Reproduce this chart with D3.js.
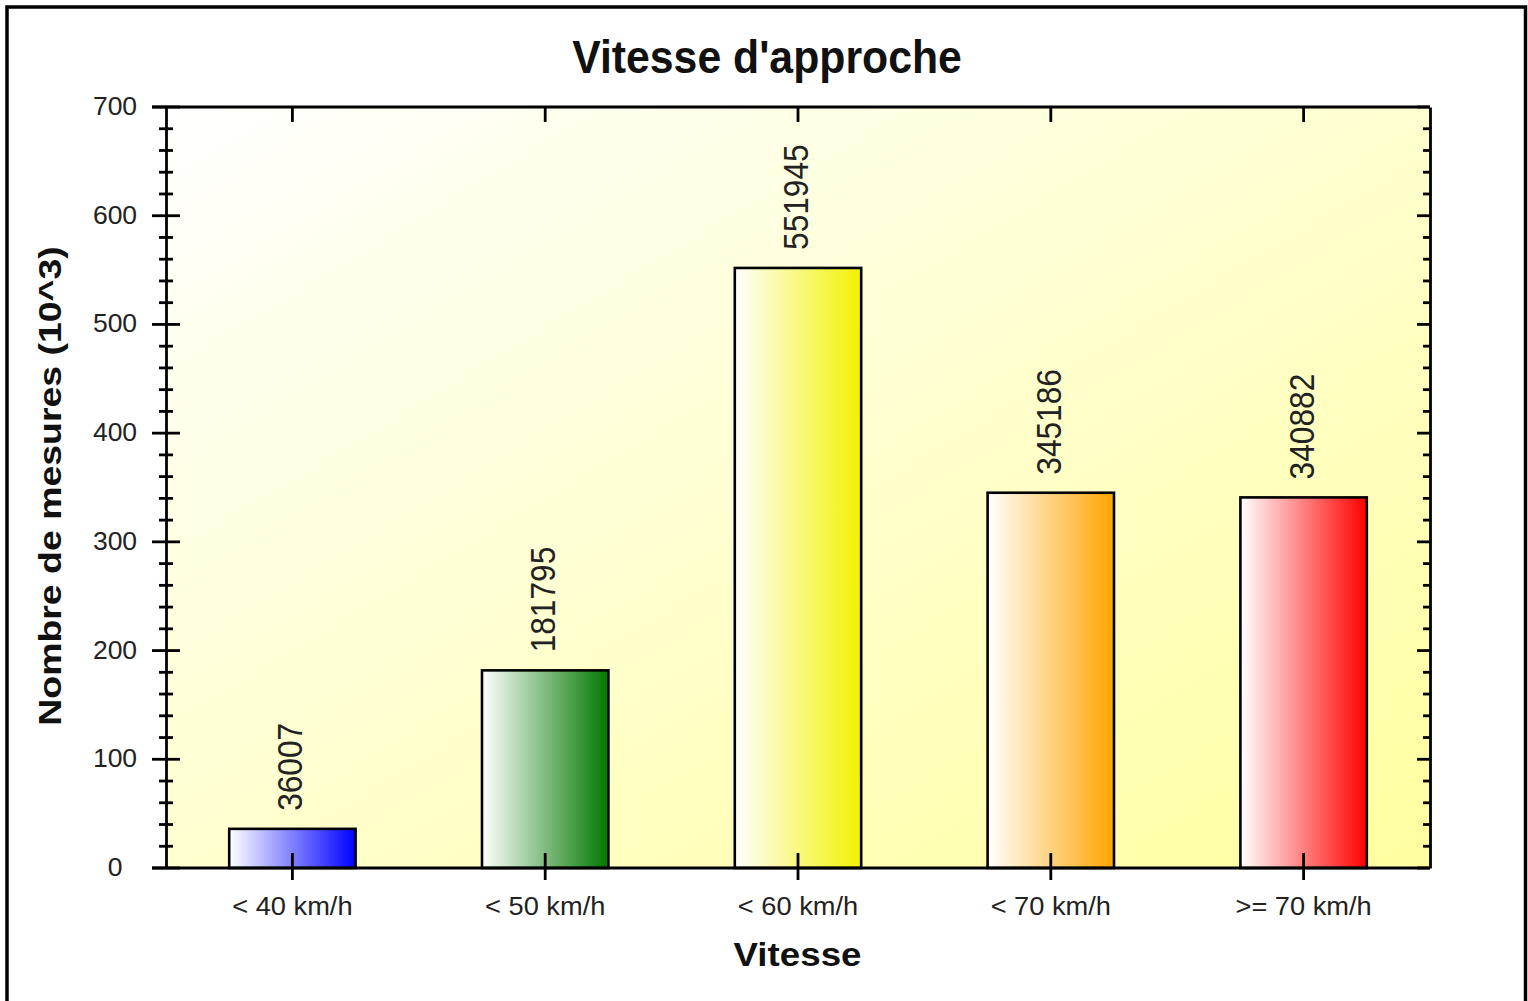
<!DOCTYPE html>
<html>
<head>
<meta charset="utf-8">
<script src="https://cdn.jsdelivr.net/npm/d3@7"></script>
<style>
  html, body { margin: 0; padding: 0; background: #ffffff; }
  svg { display: block; font-family: "Liberation Sans", Arial, sans-serif; }
</style>
</head>
<body>
<svg id="chart" width="1528" height="1001"></svg>
<script>
// ---- data ----
const chartTitle = "Vitesse d'approche";
const xTitle = "Vitesse";
const yTitle = "Nombre de mesures (10^3)";
const categories = ["< 40 km/h", "< 50 km/h", "< 60 km/h", "< 70 km/h", ">= 70 km/h"];
const values = [36007, 181795, 551945, 345186, 340882];
const yTickValues = [0, 100, 200, 300, 400, 500, 600, 700];
const yMinorStep = 20;
const barColors = ["#0000ff", "#007800", "#f2f200", "#ffa500", "#ff0000"];

// ---- layout ----
const plot = { left: 166, right: 1430, top: 107, bottom: 868 };

const svg = d3.select("#chart");
const defs = svg.append("defs");

// frame
svg.append("rect")
  .attr("x", 7).attr("y", 7).attr("width", 1518.5).attr("height", 1020)
  .attr("fill", "#ffffff").attr("stroke", "#000").attr("stroke-width", 3.5);

// background gradient of plot
const bg = defs.append("linearGradient").attr("id", "bgGrad")
  .attr("x1", "0%").attr("y1", "0%").attr("x2", "100%").attr("y2", "100%");
bg.append("stop").attr("offset", "0%").attr("stop-color", "#ffffff");
bg.append("stop").attr("offset", "100%").attr("stop-color", "#ffffa0");

barColors.forEach((c, i) => {
  const g = defs.append("linearGradient").attr("id", "barGrad" + i)
    .attr("x1", "0%").attr("y1", "0%").attr("x2", "100%").attr("y2", "0%");
  g.append("stop").attr("offset", "0%").attr("stop-color", "#ffffff");
  g.append("stop").attr("offset", "100%").attr("stop-color", c);
});

const x = d3.scaleBand()
  .domain(categories)
  .range([plot.left, plot.right])
  .paddingInner(0.5)
  .paddingOuter(0.25);

const y = d3.scaleLinear()
  .domain([0, 700])
  .range([plot.bottom, plot.top]);

svg.append("rect")
  .attr("x", plot.left).attr("y", plot.top)
  .attr("width", plot.right - plot.left).attr("height", plot.bottom - plot.top)
  .attr("fill", "url(#bgGrad)");

// bars
svg.append("g").selectAll("rect")
  .data(values)
  .join("rect")
  .attr("x", (d, i) => x(categories[i]))
  .attr("y", d => y(d / 1000))
  .attr("width", x.bandwidth())
  .attr("height", d => y(0) - y(d / 1000))
  .attr("fill", (d, i) => `url(#barGrad${i})`)
  .attr("stroke", "#000")
  .attr("stroke-width", 2.6);

// data labels
svg.append("g").selectAll("text")
  .data(values)
  .join("text")
  .attr("transform", (d, i) => {
    const cx = x(categories[i]) + x.bandwidth() / 2;
    return `translate(${cx + 10},${y(d / 1000) - 18}) rotate(-90) scale(0.88,1)`;
  })
  .attr("text-anchor", "start")
  .attr("font-size", 36)
  .attr("fill", "#222")
  .text(d => d);

// axes
const axisColor = "#000";
const axisW = 2.8;

// Left axis
const leftAxis = d3.axisLeft(y).tickValues(yTickValues).tickSize(0).tickFormat("");
svg.append("g").attr("transform", `translate(${plot.left},0)`).call(leftAxis)
  .call(g => g.select(".domain").attr("stroke", axisColor).attr("stroke-width", axisW));

const minorVals = d3.range(0, 700 + 0.001, yMinorStep).filter(v => v % 100 !== 0);

// left major ticks (cross)
svg.append("g").selectAll("line").data(yTickValues).join("line")
  .attr("x1", plot.left - 14).attr("x2", plot.left + 14)
  .attr("y1", d => y(d)).attr("y2", d => y(d))
  .attr("stroke", axisColor).attr("stroke-width", axisW);
// left minor ticks
svg.append("g").selectAll("line").data(minorVals).join("line")
  .attr("x1", plot.left - 7).attr("x2", plot.left + 7)
  .attr("y1", d => y(d)).attr("y2", d => y(d))
  .attr("stroke", axisColor).attr("stroke-width", axisW);

// right axis
const rightAxis = d3.axisRight(y).tickValues(yTickValues).tickSize(0).tickFormat("");
svg.append("g").attr("transform", `translate(${plot.right},0)`).call(rightAxis)
  .call(g => g.select(".domain").attr("stroke", axisColor).attr("stroke-width", axisW));
svg.append("g").selectAll("line").data(yTickValues).join("line")
  .attr("x1", plot.right - 13).attr("x2", plot.right)
  .attr("y1", d => y(d)).attr("y2", d => y(d))
  .attr("stroke", axisColor).attr("stroke-width", axisW);
svg.append("g").selectAll("line").data(minorVals).join("line")
  .attr("x1", plot.right - 7).attr("x2", plot.right)
  .attr("y1", d => y(d)).attr("y2", d => y(d))
  .attr("stroke", axisColor).attr("stroke-width", axisW);

// bottom axis line (extends left to major tick)
svg.append("line")
  .attr("x1", plot.left - 14).attr("x2", plot.right)
  .attr("y1", plot.bottom).attr("y2", plot.bottom)
  .attr("stroke", axisColor).attr("stroke-width", axisW);
// top axis line
svg.append("line")
  .attr("x1", plot.left - 14).attr("x2", plot.right)
  .attr("y1", plot.top).attr("y2", plot.top)
  .attr("stroke", axisColor).attr("stroke-width", axisW);

// bottom category ticks
const bottomAxis = d3.axisBottom(x).tickSize(0).tickFormat("");
svg.append("g").attr("transform", `translate(0,${plot.bottom})`).call(bottomAxis)
  .call(g => g.select(".domain").remove());
svg.append("g").selectAll("line").data(categories).join("line")
  .attr("x1", d => x(d) + x.bandwidth() / 2).attr("x2", d => x(d) + x.bandwidth() / 2)
  .attr("y1", plot.bottom - 15).attr("y2", plot.bottom + 12)
  .attr("stroke", axisColor).attr("stroke-width", axisW);
// top category ticks
svg.append("g").selectAll("line").data(categories).join("line")
  .attr("x1", d => x(d) + x.bandwidth() / 2).attr("x2", d => x(d) + x.bandwidth() / 2)
  .attr("y1", plot.top).attr("y2", plot.top + 15)
  .attr("stroke", axisColor).attr("stroke-width", axisW);

// y tick labels
svg.append("g").selectAll("text").data(yTickValues).join("text")
  .attr("x", 115).attr("y", d => y(d) + 8)
  .attr("text-anchor", "middle")
  .attr("font-size", 26.5)
  .attr("fill", "#222")
  .text(d => d);

// x tick labels
svg.append("g").selectAll("text").data(categories).join("text")
  .attr("transform", d => `translate(${x(d) + x.bandwidth() / 2},915) scale(1.09,1)`)
  .attr("text-anchor", "middle")
  .attr("font-size", 25)
  .attr("fill", "#222")
  .text(d => d);

// titles
svg.append("text")
  .attr("transform", "translate(767,73) scale(0.93,1)")
  .attr("text-anchor", "middle")
  .attr("font-size", 46).attr("font-weight", "bold")
  .attr("fill", "#111")
  .text(chartTitle);

svg.append("text")
  .attr("transform", "translate(797.5,966) scale(1.08,1)")
  .attr("text-anchor", "middle")
  .attr("font-size", 34).attr("font-weight", "bold")
  .attr("fill", "#111")
  .text(xTitle);

svg.append("text")
  .attr("transform", "translate(61,486) rotate(-90) scale(1.17,1)")
  .attr("text-anchor", "middle")
  .attr("font-size", 32).attr("font-weight", "bold")
  .attr("fill", "#111")
  .text(yTitle);
</script>
</body>
</html>
